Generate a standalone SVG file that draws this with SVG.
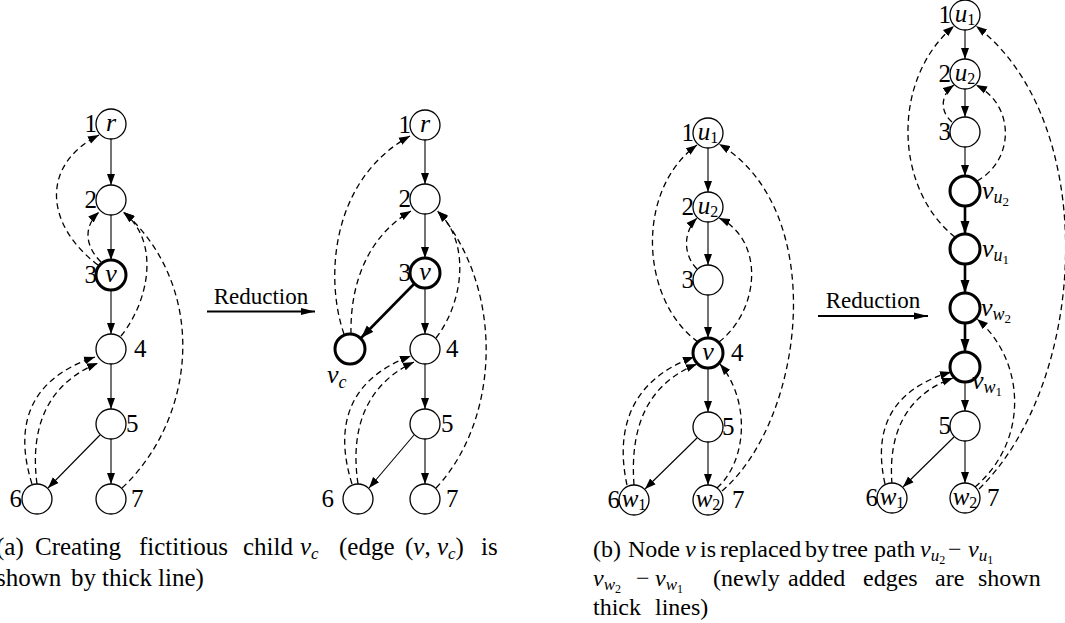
<svg xmlns="http://www.w3.org/2000/svg" width="1065" height="623" viewBox="0 0 1065 623">
<style>
text{font-family:"Liberation Serif","Times New Roman",serif;fill:#000}
.lbl{font-size:25px}
.red{font-size:23px}
.mi{font-size:26px;font-style:italic}
.e{text-anchor:end}
.m{text-anchor:middle}
.cap{font-size:25px}
.capb{font-size:24px}
.nd{fill:#fff;stroke:#000;stroke-width:1.3}
.thk{fill:#fff;stroke:#000;stroke-width:3}
.t{fill:none;stroke:#000;stroke-width:1.1;marker-end:url(#ah)}
.tt{fill:none;stroke:#000;stroke-width:2.6;marker-end:url(#ahb)}
.d{fill:none;stroke:#000;stroke-width:1.3;stroke-dasharray:6 4;marker-end:url(#ah)}
.r{fill:none;stroke:#000;stroke-width:2;marker-end:url(#ahr)}
</style>
<defs>
<marker id="ah" markerUnits="userSpaceOnUse" markerWidth="12" markerHeight="9" refX="11" refY="4.5" orient="auto"><path d="M0,0.5 L11,4.5 L0,8.5 z" fill="#000"/></marker>
<marker id="ahb" markerUnits="userSpaceOnUse" markerWidth="14" markerHeight="10" refX="13" refY="5" orient="auto"><path d="M0,0.5 L13,5 L0,9.5 z" fill="#000"/></marker>
<marker id="ahr" markerUnits="userSpaceOnUse" markerWidth="15" markerHeight="9" refX="14" refY="4.5" orient="auto"><path d="M0,1 L14,4.5 L0,8 z" fill="#000"/></marker>
</defs>
<rect width="1065" height="623" fill="#fff"/>

<g id="connectors">
<!-- Panel A left -->
<path class="t" d="M111,139 L111,185"/>
<path class="t" d="M111,215 L111,260"/>
<path class="t" d="M111,290 L111,334"/>
<path class="t" d="M111,364 L111,409"/>
<path class="t" d="M100,435 L48,488"/>
<path class="t" d="M111,439 L111,484"/>
<path class="d" d="M98,265 C45,225 40,165 99,135"/>
<path class="d" d="M101,262 C84,245 84,226 99,212"/>
<path class="d" d="M121,336 C150,300 160,240 123,212"/>
<path class="d" d="M122,488 C195,420 210,290 124,212"/>
<path class="d" d="M32,484 C15,430 25,380 95,357"/>
<path class="d" d="M37,484 C30,430 45,385 98,363"/>
<!-- Panel A right -->
<path class="t" d="M425,140 L425,184"/>
<path class="t" d="M425,214 L425,258"/>
<path class="t" d="M425,288 L425,334"/>
<path class="t" d="M425,364 L425,409"/>
<path class="t" d="M414,435 L369,488"/>
<path class="t" d="M425,439 L425,484"/>
<path class="tt" d="M414,284 L361,338"/>
<path class="d" d="M344,334 C325,280 330,180 410,136"/>
<path class="d" d="M351,334 C350,280 370,235 411,211"/>
<path class="d" d="M436,338 C465,300 470,240 437,211"/>
<path class="d" d="M436,488 C500,420 505,290 438,211"/>
<path class="d" d="M352,484 C335,430 345,380 411,356"/>
<path class="d" d="M358,484 C350,430 365,385 414,362"/>
<!-- Reduction arrows -->
<path class="r" d="M207,311.5 L315,311.5"/>
<path class="r" d="M818,316 L928,316"/>
<!-- Panel B left -->
<path class="t" d="M708,148 L708,192"/>
<path class="t" d="M708,222 L708,265"/>
<path class="t" d="M708,295 L708,338"/>
<path class="t" d="M708,368 L708,412"/>
<path class="t" d="M697,438 L645,489"/>
<path class="t" d="M708,442 L708,485"/>
<path class="d" d="M698,342 C640,300 635,190 697,145"/>
<path class="d" d="M697,269 C683,255 683,232 697,218"/>
<path class="d" d="M719,342 C760,310 765,240 719,218"/>
<path class="d" d="M722,491 C805,420 830,210 719,144"/>
<path class="d" d="M717,488 C748,460 750,400 720,364"/>
<path class="d" d="M627,485 C615,430 630,380 694,357"/>
<path class="d" d="M634,485 C630,430 645,385 697,364"/>
<!-- Panel B right -->
<path class="t" d="M965,30 L965,59"/>
<path class="t" d="M965,89 L965,117"/>
<path class="t" d="M965,147 L965,176"/>
<path class="tt" d="M965,206 L965,234"/>
<path class="tt" d="M965,264 L965,293"/>
<path class="tt" d="M965,323 L965,352"/>
<path class="t" d="M965,382 L965,411"/>
<path class="t" d="M954,437 L903,487"/>
<path class="t" d="M965,441 L965,483"/>
<path class="d" d="M952,122 C940,112 940,95 954,85"/>
<path class="d" d="M977,181 C1015,160 1015,105 976,85"/>
<path class="d" d="M955,237 C895,190 890,80 954,26"/>
<path class="d" d="M979,489 C1090,380 1100,120 976,26"/>
<path class="d" d="M975,487 C1030,440 1025,360 977,319"/>
<path class="d" d="M885,484 C873,430 890,390 951,372"/>
<path class="d" d="M892,484 C888,435 905,395 953,378"/>
</g>

<!-- Panel A left nodes -->
<g id="a1-n1"><circle class="nd" cx="111" cy="124" r="15"/><text class="lbl e" x="97" y="132">1</text><text class="mi m" x="111" y="131">r</text></g>
<g id="a1-n2"><circle class="nd" cx="111" cy="200" r="15"/><text class="lbl e" x="97" y="208">2</text></g>
<g id="a1-n3"><circle class="thk" cx="111" cy="275" r="15"/><text class="lbl e" x="97" y="283">3</text><text class="mi m" x="111" y="282">v</text></g>
<g id="a1-n4"><circle class="nd" cx="111" cy="349" r="15"/><text class="lbl" x="134" y="357">4</text></g>
<g id="a1-n5"><circle class="nd" cx="111" cy="424" r="15"/><text class="lbl" x="126" y="432">5</text></g>
<g id="a1-n6"><circle class="nd" cx="37" cy="499" r="15"/><text class="lbl e" x="22" y="507">6</text></g>
<g id="a1-n7"><circle class="nd" cx="111" cy="499" r="15"/><text class="lbl" x="131" y="507">7</text></g>

<g id="a-reduction"><text class="red m" x="261" y="304">Reduction</text></g>

<!-- Panel A right nodes -->
<g id="a2-n1"><circle class="nd" cx="425" cy="125" r="15"/><text class="lbl e" x="411" y="133">1</text><text class="mi m" x="425" y="132">r</text></g>
<g id="a2-n2"><circle class="nd" cx="425" cy="199" r="15"/><text class="lbl e" x="411" y="207">2</text></g>
<g id="a2-n3"><circle class="thk" cx="425" cy="273" r="15"/><text class="lbl e" x="411" y="281">3</text><text class="mi m" x="425" y="280">v</text></g>
<g id="a2-vc"><circle class="thk" cx="350" cy="349" r="15"/><text class="mi" x="327" y="383">v<tspan font-size="18" dy="5">c</tspan></text></g>
<g id="a2-n4"><circle class="nd" cx="425" cy="349" r="15"/><text class="lbl" x="446" y="357">4</text></g>
<g id="a2-n5"><circle class="nd" cx="425" cy="424" r="15"/><text class="lbl" x="441" y="432">5</text></g>
<g id="a2-n6"><circle class="nd" cx="358" cy="499" r="15"/><text class="lbl e" x="334" y="507">6</text></g>
<g id="a2-n7"><circle class="nd" cx="425" cy="499" r="15"/><text class="lbl" x="446" y="507">7</text></g>

<!-- Panel B left nodes -->
<g id="b1-n1"><circle class="nd" cx="708" cy="133" r="15"/><text class="lbl e" x="694" y="141">1</text><text class="lbl m" x="708" y="140"><tspan font-style="italic">u</tspan><tspan font-size="16" dy="3">1</tspan></text></g>
<g id="b1-n2"><circle class="nd" cx="708" cy="207" r="15"/><text class="lbl e" x="694" y="215">2</text><text class="lbl m" x="708" y="214"><tspan font-style="italic">u</tspan><tspan font-size="16" dy="3">2</tspan></text></g>
<g id="b1-n3"><circle class="nd" cx="708" cy="280" r="15"/><text class="lbl e" x="694" y="288">3</text></g>
<g id="b1-n4"><circle class="thk" cx="708" cy="353" r="15"/><text class="lbl" x="731" y="361">4</text><text class="mi m" x="708" y="360">v</text></g>
<g id="b1-n5"><circle class="nd" cx="708" cy="427" r="15"/><text class="lbl" x="722" y="435">5</text></g>
<g id="b1-n6"><circle class="nd" cx="634" cy="500" r="15"/><text class="lbl e" x="620" y="508">6</text><text class="lbl m" x="634" y="507"><tspan font-style="italic">w</tspan><tspan font-size="16" dy="3">1</tspan></text></g>
<g id="b1-n7"><circle class="nd" cx="708" cy="500" r="15"/><text class="lbl" x="732" y="508">7</text><text class="lbl m" x="708" y="507"><tspan font-style="italic">w</tspan><tspan font-size="16" dy="3">2</tspan></text></g>

<g id="b-reduction"><text class="red m" x="873" y="308">Reduction</text></g>

<!-- Panel B right nodes -->
<g id="b2-n1"><circle class="nd" cx="965" cy="15" r="15"/><text class="lbl e" x="951" y="23">1</text><text class="lbl m" x="965" y="22"><tspan font-style="italic">u</tspan><tspan font-size="16" dy="3">1</tspan></text></g>
<g id="b2-n2"><circle class="nd" cx="965" cy="74" r="15"/><text class="lbl e" x="951" y="82">2</text><text class="lbl m" x="965" y="81"><tspan font-style="italic">u</tspan><tspan font-size="16" dy="3">2</tspan></text></g>
<g id="b2-n3"><circle class="nd" cx="965" cy="132" r="15"/><text class="lbl e" x="951" y="140">3</text></g>
<g id="b2-vu2"><circle class="thk" cx="965" cy="191" r="15"/><text class="lbl" x="982" y="199"><tspan font-style="italic" font-size="26">v</tspan><tspan font-style="italic" font-size="18" dy="4">u</tspan><tspan font-size="13" dy="3">2</tspan></text></g>
<g id="b2-vu1"><circle class="thk" cx="965" cy="249" r="15"/><text class="lbl" x="982" y="257"><tspan font-style="italic" font-size="26">v</tspan><tspan font-style="italic" font-size="18" dy="4">u</tspan><tspan font-size="13" dy="3">1</tspan></text></g>
<g id="b2-vw2"><circle class="thk" cx="965" cy="308" r="15"/><text class="lbl" x="981" y="316"><tspan font-style="italic" font-size="26">v</tspan><tspan font-style="italic" font-size="18" dy="4">w</tspan><tspan font-size="13" dy="3">2</tspan></text></g>
<g id="b2-vw1"><circle class="thk" cx="965" cy="367" r="15"/><text class="lbl" x="972" y="389"><tspan font-style="italic" font-size="26">v</tspan><tspan font-style="italic" font-size="18" dy="4">w</tspan><tspan font-size="13" dy="3">1</tspan></text></g>
<g id="b2-n5"><circle class="nd" cx="965" cy="426" r="15"/><text class="lbl e" x="951" y="434">5</text></g>
<g id="b2-n6"><circle class="nd" cx="892" cy="498" r="15"/><text class="lbl e" x="878" y="506">6</text><text class="lbl m" x="892" y="505"><tspan font-style="italic">w</tspan><tspan font-size="16" dy="3">1</tspan></text></g>
<g id="b2-n7"><circle class="nd" cx="965" cy="498" r="15"/><text class="lbl" x="987" y="506">7</text><text class="lbl m" x="965" y="505"><tspan font-style="italic">w</tspan><tspan font-size="16" dy="3">2</tspan></text></g>

<!-- Captions -->
<g id="caption-a">
<text class="cap" y="555"><tspan x="-4">(a)</tspan><tspan x="35">Creating</tspan><tspan x="139">fictitious</tspan><tspan x="243">child</tspan><tspan x="300" font-style="italic">v</tspan><tspan font-style="italic" font-size="17" dy="4">c</tspan><tspan x="339" dy="-4">(edge</tspan><tspan x="405">(</tspan><tspan font-style="italic">v</tspan><tspan>, </tspan><tspan font-style="italic">v</tspan><tspan font-style="italic" font-size="17" dy="4">c</tspan><tspan dy="-4">)</tspan><tspan x="481">is</tspan></text>
<text class="cap" y="586"><tspan x="-4">shown</tspan><tspan x="71">by</tspan><tspan x="102">thick</tspan><tspan x="158">line)</tspan></text>
</g>
<g id="caption-b">
<text class="capb" y="557"><tspan x="593">(b)</tspan><tspan x="628">Node</tspan><tspan x="685" font-style="italic">v</tspan><tspan x="700">is</tspan><tspan x="720">replaced</tspan><tspan x="805">by</tspan><tspan x="832">tree</tspan><tspan x="874">path</tspan><tspan x="920" font-style="italic">v</tspan><tspan font-style="italic" font-size="17" dy="4">u</tspan><tspan font-size="12" dy="3">2</tspan><tspan x="948" dy="-7">−</tspan><tspan x="968" font-style="italic">v</tspan><tspan font-style="italic" font-size="17" dy="4">u</tspan><tspan font-size="12" dy="3">1</tspan></text>
<text class="capb" y="586"><tspan x="593" font-style="italic">v</tspan><tspan font-style="italic" font-size="17" dy="4">w</tspan><tspan font-size="12" dy="3">2</tspan><tspan x="636" dy="-7">−</tspan><tspan x="655" font-style="italic">v</tspan><tspan font-style="italic" font-size="17" dy="4">w</tspan><tspan font-size="12" dy="3">1</tspan><tspan x="713" dy="-7">(newly</tspan><tspan x="788">added</tspan><tspan x="863">edges</tspan><tspan x="935">are</tspan><tspan x="978">shown</tspan></text>
<text class="capb" y="615"><tspan x="593">thick</tspan><tspan x="655">lines)</tspan></text>
</g>
</svg>
